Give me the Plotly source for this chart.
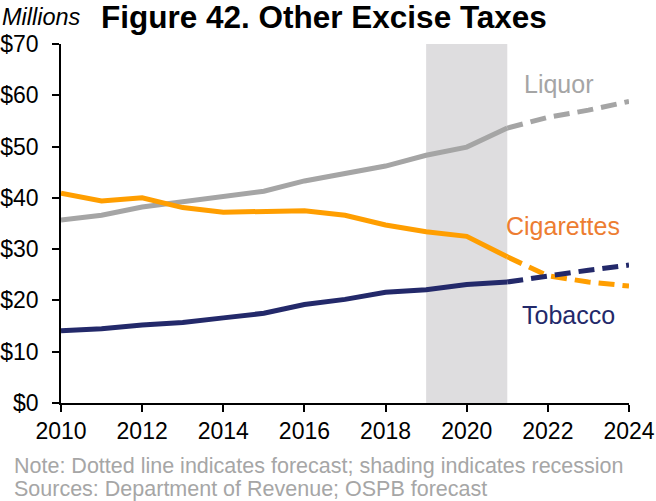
import plotly.graph_objects as go

years = list(range(2010, 2025))
liquor = [35.7, 36.6, 38.2, 39.2, 40.2, 41.3, 43.3, 44.8, 46.2, 48.3, 49.9, 53.6, 55.7, 57.1, 58.8]
cigarettes = [40.9, 39.4, 40.0, 38.1, 37.2, 37.3, 37.5, 36.6, 34.7, 33.4, 32.5, 28.5, 24.8, 23.6, 22.8]
tobacco = [14.1, 14.5, 15.2, 15.7, 16.6, 17.5, 19.2, 20.2, 21.6, 22.1, 23.1, 23.6, 24.8, 25.9, 26.9]
last_actual_year = 2021
recession = (2019, 2021)
y_ticks = [0, 10, 20, 30, 40, 50, 60, 70]

FONT = "Liberation Sans, Arial, sans-serif"

series = [
    ("Liquor", liquor, "#A5A5A5", "#A5A5A5", 2022.27, 62.2),
    ("Cigarettes", cigarettes, "#FF9E00", "#ED7D31", 2022.37, 34.5),
    ("Tobacco", tobacco, "#23296A", "#23296A", 2022.5, 17.2),
]

fig = go.Figure()
split = years.index(last_actual_year)
for name, vals, color, label_color, lx, ly in series:
    # actual values as a solid line, forecast years dashed
    fig.add_trace(go.Scatter(x=years[:split + 1], y=vals[:split + 1], mode="lines",
                             line=dict(color=color, width=5), showlegend=False,
                             hoverinfo="skip"))
    fig.add_trace(go.Scatter(x=years[split:], y=vals[split:], mode="lines",
                             line=dict(color=color, width=5, dash="16px,8px"),
                             showlegend=False, hoverinfo="skip"))
    fig.add_annotation(x=lx, y=ly, text=name, showarrow=False,
                       font=dict(family=FONT, size=25, color=label_color))

fig.add_vrect(x0=recession[0], x1=recession[1], fillcolor="#DEDDDF", opacity=1,
              line_width=0, layer="below")

axis_common = dict(showgrid=False, zeroline=False, showline=True, linecolor="black",
                   linewidth=1.5, ticks="outside", ticklen=7, tickwidth=1.5,
                   tickcolor="black", tickfont=dict(size=23), automargin=False)

fig.update_layout(
    width=656, height=501,
    margin=dict(l=61, r=27, t=44, b=98),
    plot_bgcolor="white", paper_bgcolor="white",
    font=dict(family=FONT, color="black"),
    xaxis=dict(range=[2010, 2024], tickvals=list(range(2010, 2025, 2)), **axis_common),
    yaxis=dict(range=[0, 70], tickvals=y_ticks, ticktext=[f"${v}" for v in y_ticks],
               ticklabelstandoff=9, **axis_common),
)

fig.add_annotation(xref="paper", yref="paper", x=-0.107, y=1.0, yshift=27,
                   xanchor="left", yanchor="middle", text="<i>Millions</i>",
                   showarrow=False, font=dict(size=23.5))
fig.add_annotation(xref="paper", yref="paper", x=0.463, y=1.0, yshift=27,
                   xanchor="center", yanchor="middle",
                   text="<b>Figure 42. Other Excise Taxes</b>",
                   showarrow=False, font=dict(size=31.5))
fig.add_annotation(xref="paper", yref="paper", x=-0.087, y=0, yshift=-63,
                   xanchor="left", yanchor="middle", align="left",
                   text="Note: Dotted line indicates forecast; shading indicates recession",
                   showarrow=False, font=dict(size=21.5, color="#A6A6A6"))
fig.add_annotation(xref="paper", yref="paper", x=-0.087, y=0, yshift=-86,
                   xanchor="left", yanchor="middle", align="left",
                   text="Sources: Department of Revenue; OSPB forecast",
                   showarrow=False, font=dict(size=21.5, color="#A6A6A6"))

fig.write_html("out.html")
